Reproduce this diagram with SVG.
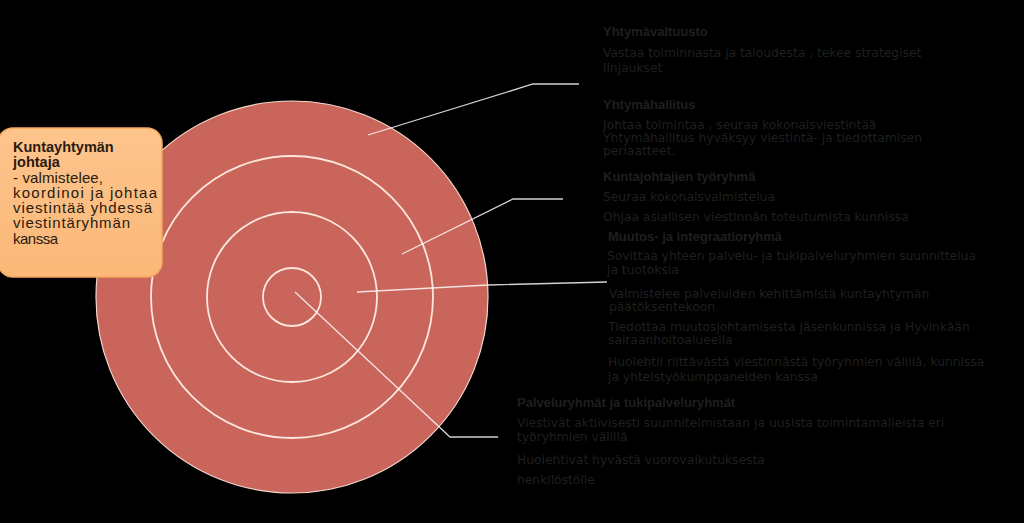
<svg xmlns="http://www.w3.org/2000/svg" width="1024" height="523" viewBox="0 0 1024 523">
<defs>
<style>
.bg{fill:#000}
.disc{fill:#c9655b;stroke:#f3d6cc;stroke-width:1.2}
.ring{fill:none;stroke:#fde6dc;stroke-width:1.8}
.conn{fill:none;stroke:#ffffff;stroke-opacity:0.82;stroke-width:1.3}
.t{font-family:"DejaVu Sans","Liberation Sans",sans-serif;font-size:12.3px;fill:#1f1f1f}
.h{font-family:"Liberation Sans","DejaVu Sans",sans-serif;font-weight:bold;font-size:13px}
.bt{font-family:"Liberation Sans","DejaVu Sans",sans-serif;font-size:15px;fill:#2a1a10}
.bh{font-family:"Liberation Sans","DejaVu Sans",sans-serif;font-size:14.5px;font-weight:bold;fill:#2a1a10}
</style>
<linearGradient id="boxg" x1="0" y1="0" x2="0" y2="1">
<stop offset="0" stop-color="#fdc48c"/>
<stop offset="1" stop-color="#fbb878"/>
</linearGradient>
</defs>
<rect class="bg" x="0" y="0" width="1024" height="523"/>
<g id="target">
<circle class="disc" cx="292" cy="297" r="196"/>
<circle class="ring" cx="292" cy="297" r="141"/>
<circle class="ring" cx="292" cy="297" r="85"/>
<circle class="ring" cx="292" cy="297" r="29"/>
</g>
<g id="connectors">
<polyline class="conn" points="368,135 533,84 579,84"/>
<polyline class="conn" points="402,254 513,199 563,199"/>
<polyline class="conn" points="357,292 488,285 607,282"/>
<polyline class="conn" points="295,292 450,437 498,437"/>
</g>
<g id="kuntayhtyman-johtaja">
<rect x="-2" y="128" width="164" height="149" rx="15" fill="url(#boxg)" stroke="#f3a75e" stroke-width="1.5"/>
<text class="bh" x="13" y="152">Kuntayhtymän</text>
<text class="bh" x="13" y="167">johtaja</text>
<text class="bt" x="13" y="183" textLength="90" lengthAdjust="spacing">- valmistelee,</text>
<text class="bt" x="13" y="198" textLength="144" lengthAdjust="spacing">koordinoi ja johtaa</text>
<text class="bt" x="13" y="213" textLength="139" lengthAdjust="spacing">viestintää yhdessä</text>
<text class="bt" x="13" y="228" textLength="117" lengthAdjust="spacing">viestintäryhmän</text>
<text class="bt" x="13" y="244" textLength="45" lengthAdjust="spacing">kanssa</text>
</g>
<g id="yhtymavaltuusto">
<text class="t"><tspan class="h" x="603" y="36">Yhtymävaltuusto</tspan><tspan x="603" y="57">Vastaa toiminnasta ja taloudesta , tekee strategiset</tspan><tspan x="603" y="72">linjaukset</tspan></text>
</g>
<g id="yhtymahallitus">
<text class="t"><tspan class="h" x="603" y="109">Yhtymähallitus</tspan><tspan x="603" y="129">Johtaa toimintaa , seuraa kokonaisviestintää</tspan><tspan x="603" y="142">Yhtymähallitus hyväksyy viestintä- ja tiedottamisen</tspan><tspan x="603" y="155">periaatteet.</tspan></text>
</g>
<g id="kuntajohtajien-tyoryhma">
<text class="t"><tspan class="h" x="603" y="181">Kuntajohtajien työryhmä</tspan><tspan x="603" y="201">Seuraa kokonaisvalmistelua</tspan><tspan x="603" y="221">Ohjaa asiallisen viestinnän toteutumista kunnissa</tspan></text>
</g>
<g id="muutos-ja-integraatioryhma">
<text class="t"><tspan class="h" x="608" y="241">Muutos- ja integraatioryhmä</tspan><tspan x="607" y="260">Sovittaa yhteen palvelu- ja tukipalveluryhmien suunnittelua</tspan><tspan x="607" y="274">ja tuotoksia</tspan><tspan x="609" y="298">Valmistelee palveluiden kehittämistä kuntayhtymän</tspan><tspan x="609" y="311">päätöksentekoon</tspan><tspan x="608" y="331">Tiedottaa muutosjohtamisesta jäsenkunnissa ja Hyvinkään</tspan><tspan x="608" y="344">sairaanhoitoalueella</tspan><tspan x="608" y="366">Huolehtii riittävästä viestinnästä työryhmien välillä, kunnissa</tspan><tspan x="608" y="381">ja yhteistyökumppaneiden kanssa</tspan></text>
</g>
<g id="palveluryhmat">
<text class="t"><tspan class="h" x="517" y="407">Palveluryhmät ja tukipalveluryhmät</tspan><tspan x="517" y="427">Viestivät aktiivisesti suunnitelmistaan ja uusista toimintamalleista eri</tspan><tspan x="517" y="441">työryhmien välillä</tspan><tspan x="517" y="464">Huolehtivat hyvästä vuorovaikutuksesta</tspan><tspan x="517" y="484">henkilöstölle</tspan></text>
</g>
</svg>
